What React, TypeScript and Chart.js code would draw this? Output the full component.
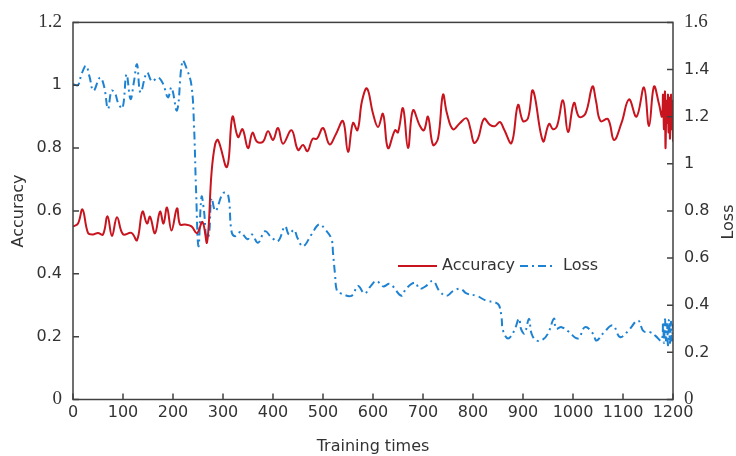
import React, { useEffect, useRef } from "react";
import { Chart, registerables } from "chart.js";

Chart.register(...registerables);

const accX = [0, 10, 19, 30, 40, 50, 60, 69, 78, 88, 100, 117, 128, 139, 148, 154, 164, 174, 181, 188, 197, 208, 214, 224, 237, 248, 259, 268, 277, 284, 290, 308, 319, 330, 339, 350, 359, 368, 380, 390, 400, 410, 420, 437, 450, 460, 469, 479, 488, 500, 513, 526, 540, 550, 560, 569, 578, 588, 600, 610, 620, 630, 644, 650, 660, 670, 680, 694, 702, 710, 720, 730, 740, 748, 760, 774, 787, 795, 802, 810, 822, 834, 844, 854, 862, 877, 890, 900, 910, 920, 940, 952, 960, 968, 980, 990, 1002, 1012, 1025, 1039, 1046, 1055, 1070, 1082, 1097, 1112, 1127, 1142, 1152, 1162, 1172, 1178, 1180, 1182, 1184, 1185, 1187, 1188, 1190, 1191, 1193, 1194, 1196, 1197, 1199, 1200];
const accY = [0.55, 0.56, 0.605, 0.53, 0.525, 0.53, 0.525, 0.583, 0.52, 0.58, 0.526, 0.53, 0.507, 0.598, 0.56, 0.582, 0.529, 0.598, 0.56, 0.611, 0.538, 0.608, 0.557, 0.557, 0.551, 0.529, 0.565, 0.5, 0.72, 0.81, 0.826, 0.74, 0.9, 0.835, 0.86, 0.8, 0.849, 0.82, 0.82, 0.854, 0.826, 0.864, 0.814, 0.857, 0.794, 0.81, 0.79, 0.829, 0.83, 0.864, 0.812, 0.845, 0.886, 0.788, 0.88, 0.857, 0.95, 0.99, 0.91, 0.867, 0.909, 0.8, 0.857, 0.85, 0.927, 0.8, 0.92, 0.87, 0.857, 0.9, 0.81, 0.83, 0.97, 0.91, 0.86, 0.88, 0.895, 0.86, 0.817, 0.83, 0.893, 0.874, 0.87, 0.883, 0.86, 0.816, 0.937, 0.886, 0.895, 0.983, 0.822, 0.877, 0.86, 0.87, 0.952, 0.851, 0.944, 0.9, 0.91, 0.996, 0.95, 0.886, 0.892, 0.826, 0.88, 0.955, 0.9, 0.993, 0.87, 0.996, 0.94, 0.9, 0.97, 0.86, 0.98, 0.8, 0.95, 0.88, 0.97, 0.85, 0.96, 0.83, 0.97, 0.86, 0.95, 0.82];

const lossX = [0, 10, 17, 26, 33, 41, 54, 62, 70, 77, 84, 90, 99, 107, 115, 122, 128, 135, 148, 158, 170, 180, 190, 197, 208, 219, 228, 237, 242, 246, 251, 257, 262, 267, 272, 277, 285, 300, 310, 317, 324, 335, 349, 358, 370, 384, 396, 410, 424, 432, 442, 449, 460, 477, 492, 505, 517, 520, 524, 528, 536, 557, 570, 583, 595, 607, 620, 634, 657, 666, 684, 693, 705, 720, 733, 747, 760, 775, 787, 807, 827, 844, 852, 857, 860, 870, 882, 892, 896, 903, 912, 917, 927, 940, 950, 962, 966, 977, 990, 1010, 1024, 1040, 1047, 1064, 1080, 1094, 1110, 1130, 1141, 1154, 1165, 1177, 1180, 1182, 1184, 1186, 1188, 1190, 1192, 1194, 1196, 1198, 1200];
const lossY = [1.338, 1.334, 1.38, 1.416, 1.37, 1.31, 1.366, 1.33, 1.233, 1.31, 1.3, 1.26, 1.236, 1.38, 1.275, 1.35, 1.422, 1.303, 1.387, 1.35, 1.366, 1.34, 1.282, 1.324, 1.227, 1.436, 1.4, 1.332, 1.163, 0.896, 0.65, 0.86, 0.8, 0.685, 0.7, 0.854, 0.8, 0.875, 0.87, 0.714, 0.693, 0.71, 0.68, 0.7, 0.665, 0.714, 0.69, 0.672, 0.735, 0.7, 0.72, 0.685, 0.65, 0.7, 0.743, 0.72, 0.68, 0.622, 0.532, 0.46, 0.45, 0.44, 0.482, 0.45, 0.48, 0.503, 0.48, 0.49, 0.44, 0.47, 0.496, 0.47, 0.48, 0.503, 0.46, 0.44, 0.46, 0.47, 0.45, 0.44, 0.419, 0.412, 0.4, 0.349, 0.293, 0.259, 0.29, 0.343, 0.3, 0.28, 0.343, 0.28, 0.25, 0.255, 0.28, 0.343, 0.3, 0.307, 0.29, 0.259, 0.307, 0.28, 0.25, 0.29, 0.314, 0.265, 0.29, 0.335, 0.29, 0.286, 0.27, 0.25, 0.33, 0.24, 0.34, 0.25, 0.32, 0.23, 0.34, 0.24, 0.33, 0.25, 0.32];

const xTitle = "Training times";
const accTitle = "Accuracy";
const lossTitle = "Loss";

const RED = "#C8141E";
const BLUE = "#1E82D2";
const AXIS = "#404040";
const SANS = "'DejaVu Sans', Verdana, sans-serif";
const SERIF = "'Liberation Serif', 'DejaVu Serif', serif";

const framePlugin = {
  id: "frame",
  afterDatasetsDraw(chart: any) {
    const { ctx, chartArea, scales } = chart;
    const { left, right, top, bottom } = chartArea;
    ctx.save();
    ctx.strokeStyle = AXIS;
    ctx.lineWidth = 1.5;
    ctx.setLineDash([]);
    ctx.strokeRect(left, top, right - left, bottom - top);
    ctx.beginPath();
    scales.x.ticks.forEach((t: any) => {
      const px = scales.x.getPixelForValue(t.value);
      ctx.moveTo(px, bottom);
      ctx.lineTo(px, bottom - 6);
    });
    scales.y.ticks.forEach((t: any) => {
      const py = scales.y.getPixelForValue(t.value);
      ctx.moveTo(left, py);
      ctx.lineTo(left + 6, py);
    });
    scales.y1.ticks.forEach((t: any) => {
      const py = scales.y1.getPixelForValue(t.value);
      ctx.moveTo(right, py);
      ctx.lineTo(right - 6, py);
    });
    ctx.stroke();

    // legend
    const ds = chart.data.datasets;
    const ly = 266;
    ctx.font = `16px ${SANS}`;
    ctx.textBaseline = "middle";
    ctx.fillStyle = "#333";
    ctx.lineWidth = 2;
    ctx.strokeStyle = ds[0].borderColor;
    ctx.beginPath();
    ctx.moveTo(398, ly);
    ctx.lineTo(437, ly);
    ctx.stroke();
    ctx.fillText(ds[0].label, 442, ly);
    ctx.strokeStyle = ds[1].borderColor;
    ctx.setLineDash(ds[1].borderDash);
    ctx.beginPath();
    ctx.moveTo(520, ly);
    ctx.lineTo(556, ly);
    ctx.stroke();
    ctx.setLineDash([]);
    ctx.fillText(ds[1].label, 563, ly);

    // right axis title
    ctx.translate(728.5, 222);
    ctx.rotate(-Math.PI / 2);
    ctx.textAlign = "center";
    ctx.fillText(lossTitle, 0, 0);
    ctx.restore();
  },
};

function tickFont(max: number) {
  return (c: any) => {
    const v = c.tick ? c.tick.value : null;
    const serif = v !== null && (Math.abs(v) < 1e-9 || Math.abs(v - max) < 1e-9);
    return serif ? { family: SERIF, size: 19 } : { family: SANS, size: 16 };
  };
}

const fmt = (v: any) => String(Math.round(Number(v) * 10) / 10);

export default function App() {
  const ref = useRef<HTMLCanvasElement>(null);
  useEffect(() => {
    if (!ref.current) return;
    const chart = new Chart(ref.current, {
      type: "line",
      data: {
        datasets: [
          {
            label: accTitle,
            data: accX.map((x, i) => ({ x, y: accY[i] })),
            borderColor: RED,
            backgroundColor: RED,
            borderWidth: 2,
            pointRadius: 0,
            tension: 0.4,
            yAxisID: "y",
          },
          {
            label: lossTitle,
            data: lossX.map((x, i) => ({ x, y: lossY[i] })),
            borderColor: BLUE,
            backgroundColor: BLUE,
            borderWidth: 2,
            borderDash: [8, 4, 2, 4],
            pointRadius: 0,
            tension: 0.4,
            yAxisID: "y1",
          },
        ],
      },
      options: {
        animation: false,
        responsive: false,
        maintainAspectRatio: false,
        layout: { padding: { top: 18.5, left: 0, right: 0, bottom: 0 } },
        plugins: { legend: { display: false }, tooltip: { enabled: false } },
        scales: {
          x: {
            type: "linear",
            min: 0,
            max: 1200,
            grid: { display: false, drawTicks: false },
            border: { display: false },
            ticks: { stepSize: 100, color: "#333", font: { family: SANS, size: 16 }, padding: 4, maxRotation: 0, autoSkip: false, callback: (v: any) => String(v) },
            title: { display: true, text: xTitle, color: "#333", font: { family: SANS, size: 16 }, padding: { top: 0, bottom: 0 } },
            afterFit: (s: any) => { s.height = 56.5; },
          },
          y: {
            type: "linear",
            position: "left",
            min: 0,
            max: 1.2,
            grid: { display: false, drawTicks: false },
            border: { display: false },
            ticks: { stepSize: 0.2, color: "#333", font: tickFont(1.2) as any, padding: 11, callback: fmt },
            title: { display: true, text: accTitle, color: "#333", font: { family: SANS, size: 16 }, padding: { top: 9.5, bottom: 0 } },
            afterFit: (s: any) => { s.width = 73; },
          },
          y1: {
            type: "linear",
            position: "right",
            min: 0,
            max: 1.6,
            grid: { display: false, drawTicks: false },
            border: { display: false },
            ticks: { stepSize: 0.2, color: "#333", font: tickFont(1.6) as any, padding: 11, callback: fmt },
            title: { display: false },
            afterFit: (s: any) => { s.width = 63; },
          },
        },
      },
      plugins: [framePlugin],
    } as any);
    return () => chart.destroy();
  }, []);
  return (
    <div style={{ position: "absolute", left: 0, top: 0, width: 736, height: 456, background: "#fff" }}>
      <canvas ref={ref} width={736} height={456} style={{ width: 736, height: 456, display: "block" }} />
    </div>
  );
}
